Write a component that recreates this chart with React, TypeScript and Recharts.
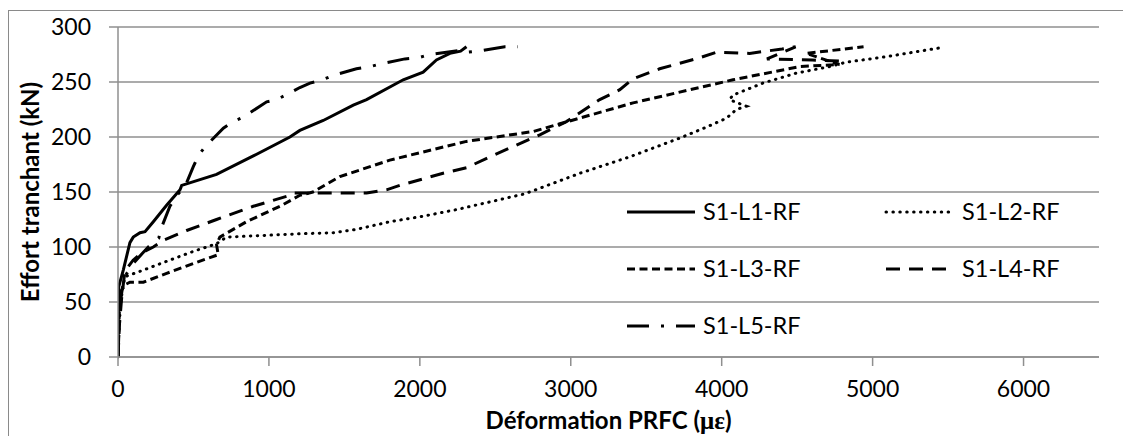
import {
  LineChart,
  Line,
  XAxis,
  YAxis,
  CartesianGrid,
  Legend,
  Label,
} from "recharts";

// valeurs : [déformation (µε), effort (kN)]
const s1L1: number[][] = [
  [0, 0], [2, 30], [5, 64], [35, 79], [79, 104], [101, 109], [146, 113], [179, 114],
  [234, 123], [322, 138], [411, 152], [422, 156], [653, 166], [900, 183], [1139, 200],
  [1205, 206], [1360, 215], [1559, 229], [1647, 234], [1890, 252], [2022, 259],
  [2110, 270], [2199, 276], [2270, 278], [2309, 282],
];

const s1L2: number[][] = [
  [0, 0], [5, 20], [15, 45], [30, 62], [46, 73], [168, 79], [322, 87], [499, 96],
  [653, 103], [719, 109], [1205, 112], [1426, 113], [1580, 116], [1801, 123],
  [2022, 128], [2243, 134], [2464, 141], [2684, 148], [2728, 150], [3060, 167],
  [3391, 182], [3722, 199], [3899, 209], [4031, 217], [4097, 225], [4163, 228],
  [4086, 232], [4053, 234], [4073, 238], [4273, 249], [4492, 258], [4715, 264],
  [4825, 268], [5090, 273], [5311, 278], [5444, 281],
];

const s1L3: number[][] = [
  [0, 0], [5, 25], [10, 45], [20, 60], [50, 66], [79, 68], [168, 68], [322, 76],
  [499, 85], [664, 93], [653, 102], [675, 109], [852, 123], [1073, 137], [1205, 147],
  [1291, 150], [1470, 164], [1801, 179], [2309, 196], [2751, 205], [2927, 212],
  [3413, 231], [4075, 252], [4517, 264], [4780, 266], [4560, 276], [4940, 282],
];

const s1L4: number[][] = [
  [0, 0], [10, 30], [25, 55], [46, 78], [100, 88], [160, 95], [234, 100], [300, 106],
  [455, 115], [653, 125], [896, 137], [1117, 146], [1161, 149], [1647, 149],
  [1779, 152], [1867, 156], [2154, 167], [2309, 172], [2464, 182], [2795, 202],
  [2971, 214], [3192, 234], [3325, 243], [3413, 253], [3589, 262], [3854, 272],
  [3965, 277], [4185, 276], [4400, 280], [4490, 282], [4300, 271], [4600, 270],
  [4800, 269],
];

const s1L5: number[][] = [
  [0, 0], [8, 30], [15, 50], [40, 72], [100, 85], [200, 100], [270, 108], [289, 118],
  [344, 137], [389, 147], [444, 155], [499, 173], [532, 183], [576, 191], [698, 208],
  [764, 214], [830, 218], [985, 232], [1051, 234], [1139, 240], [1205, 245],
  [1272, 249], [1353, 252], [1426, 256], [1580, 262], [1669, 264], [1757, 267],
  [1901, 271], [1989, 272], [2066, 275], [2276, 279], [2309, 277], [2386, 278],
  [2563, 282], [2650, 282],
];

const nomsSeries = ["S1-L1-RF", "S1-L2-RF", "S1-L3-RF", "S1-L4-RF", "S1-L5-RF"];
const donneesSeries = [s1L1, s1L2, s1L3, s1L4, s1L5];
const ticksX = [0, 1000, 2000, 3000, 4000, 5000, 6000];
const ticksY = [0, 50, 100, 150, 200, 250, 300];

// style de trait de chaque série
const traits = [
  { dash: undefined, cap: "butt" },
  { dash: "0.5 6.4", cap: "round" },
  { dash: "8 4.5", cap: "butt" },
  { dash: "14 9", cap: "butt" },
  { dash: "22 12 3 12", cap: "butt" },
];

const police = "Lato, 'Open Sans', sans-serif";
const gris = "#8f8f8f";

const series = donneesSeries.map((pts) => pts.map(([x, y]) => ({ x, y })));

function LegendeRF() {
  // deux colonnes : L1, L3, L5 à gauche ; L2, L4 à droite
  const cases = [
    { i: 0, col: 0, row: 0 },
    { i: 1, col: 1, row: 0 },
    { i: 2, col: 0, row: 1 },
    { i: 3, col: 1, row: 1 },
    { i: 4, col: 0, row: 2 },
  ];
  return (
    <svg width={470} height={150} style={{ overflow: "visible" }}>
      {cases.map(({ i, col, row }) => {
        const x0 = col === 0 ? 0 : 259;
        const y = 15 + row * 57;
        return (
          <g key={i}>
            <line
              x1={x0}
              x2={x0 + 68}
              y1={y}
              y2={y}
              stroke="#000"
              strokeWidth={3}
              strokeDasharray={traits[i].dash}
              strokeLinecap={traits[i].cap as "butt" | "round"}
            />
            <text
              x={x0 + 76}
              y={y}
              dy="0.36em"
              fontFamily={police}
              fontSize={23.5}
              fill="#000"
            >
              {nomsSeries[i]}
            </text>
          </g>
        );
      })}
    </svg>
  );
}

export default function App() {
  return (
    <div
      style={{
        position: "relative",
        top: 2,
        width: 1123,
        height: 427,
        borderLeft: "1px solid #8a8a8a",
        borderTop: "1px solid #8a8a8a",
        background: "#fff",
      }}
    >
      <style>{"html,body{overflow:hidden}"}</style>
      <LineChart
        width={1123}
        height={427}
        margin={{ top: 16, right: 33, left: 0, bottom: 6 }}
      >
        <CartesianGrid vertical={false} stroke={gris} strokeWidth={1.5} />
        <XAxis
          type="number"
          dataKey="x"
          domain={[0, 6500]}
          ticks={ticksX}
          allowDataOverflow
          height={75}
          stroke={gris}
          strokeWidth={1.5}
          tickSize={9}
          tickMargin={15}
          tick={{ fill: "#000", fontFamily: police, fontSize: 23 }}
        >
          <Label
            content={({ viewBox }: any) => (
              <text
                x={viewBox.x + viewBox.width / 2}
                y={viewBox.y + 72}
                textAnchor="middle"
                fontFamily={police}
                fontSize={24}
                fontWeight="bold"
                fill="#000"
              >
                Déformation PRFC (
                <tspan fontFamily="'Liberation Serif', serif" fontSize={25}>
                  με
                </tspan>
                )
              </text>
            )}
          />
        </XAxis>
        <YAxis
          type="number"
          domain={[0, 300]}
          ticks={ticksY}
          width={109}
          stroke={gris}
          strokeWidth={1.5}
          tickSize={9}
          tickMargin={18}
          tick={{ fill: "#000", fontFamily: police, fontSize: 23 }}
        >
          <Label
            content={({ viewBox }: any) => {
              const cx = viewBox.x + 30;
              const cy = viewBox.y + viewBox.height / 2;
              return (
                <text
                  x={cx}
                  y={cy}
                  transform={`rotate(-90, ${cx}, ${cy})`}
                  textAnchor="middle"
                  fontFamily={police}
                  fontSize={24}
                  fontWeight="bold"
                  fill="#000"
                >
                  Effort tranchant (kN)
                </text>
              );
            }}
          />
        </YAxis>
        <Legend
          layout="horizontal"
          verticalAlign="middle"
          align="center"
          wrapperStyle={{ left: 618, top: 186, width: 470, height: 150 }}
          content={() => <LegendeRF />}
        />
        {series.map((d, i) => (
          <Line
            key={nomsSeries[i]}
            data={d}
            dataKey="y"
            name={nomsSeries[i]}
            type="linear"
            stroke="#000"
            strokeWidth={3}
            strokeDasharray={traits[i].dash}
            strokeLinecap={traits[i].cap as "butt" | "round"}
            dot={false}
            activeDot={false}
            isAnimationActive={false}
          />
        ))}
      </LineChart>
    </div>
  );
}
